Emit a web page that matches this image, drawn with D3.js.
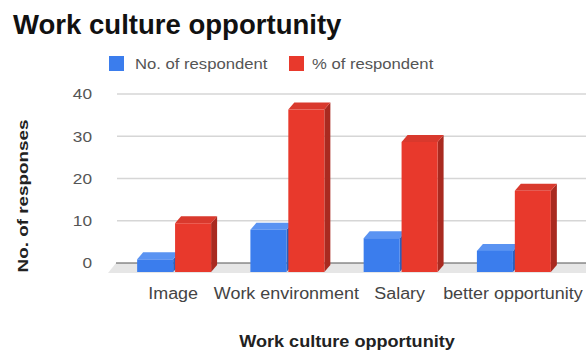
<!DOCTYPE html>
<html>
<head>
<meta charset="utf-8">
<script src="https://cdn.jsdelivr.net/npm/d3@7"></script>
<style>
  html, body { margin: 0; padding: 0; background: #fff; }
  svg { display: block; font-family: "Liberation Sans", Arial, sans-serif; }
</style>
</head>
<body>
<svg id="chart" width="586" height="353"></svg>
<script>
// Survey data
const categories = ["Image", "Work environment", "Salary", "better opportunity"];
const seriesNames = ["No. of respondent", "% of respondent"];
const respondents = [3, 10, 8, 5];
const percentRespondents = [11.54, 38.46, 30.77, 19.23];
const yTicks = [0, 10, 20, 30, 40];

const palette = [
  { front: "#3b7ded", top: "#5a93f2", side: "#2a5fbd" },
  { front: "#e8392c", top: "#d9392d", side: "#a92a20" }
];

const svg = d3.select("#chart");
const W = 586, H = 353;

// Widen text horizontally by factor k, keeping its anchor
function widen(sel, k) {
  sel.each(function () {
    const w = this.getComputedTextLength();
    d3.select(this).attr("textLength", w * k).attr("lengthAdjust", "spacingAndGlyphs");
  });
  return sel;
}

// Oblique depth of the 3D bars and floor
const depthX = 6, depthY = 7, floorDepth = 9;

const y = d3.scaleLinear().domain([0, 40]).range([263, 94]);
const x = d3.scaleBand().domain(categories).range([117.5, 570.5])
  .paddingInner(0.347).paddingOuter(0.1735);
const xs = d3.scaleBand().domain([0, 1]).range([0, x.bandwidth()]).paddingInner(0.05);

const rows = categories.map((c, i) => ({ cat: c, vals: [respondents[i], percentRespondents[i]] }));

// Title
widen(svg.append("text").attr("x", 13).attr("y", 34)
  .attr("font-size", 27).attr("font-weight", "bold").attr("fill", "#111")
  .text("Work culture opportunity"), 1.02);

// Legend
const legend = svg.append("g");
const legendItems = [{ x: 109, tx: 135 }, { x: 289, tx: 312 }];
seriesNames.forEach((name, i) => {
  legend.append("rect").attr("x", legendItems[i].x).attr("y", 56)
    .attr("width", 15).attr("height", 15).attr("fill", palette[i].front);
  widen(legend.append("text").attr("x", legendItems[i].tx).attr("y", 68.5)
    .attr("font-size", 15).attr("fill", "#555").text(name), 1.11);
});

// Gridlines on the back wall
const grid = svg.append("g");
grid.selectAll("line").data(yTicks.filter(d => d !== 0)).join("line")
  .attr("x1", 117).attr("x2", W)
  .attr("y1", d => y(d)).attr("y2", d => y(d))
  .attr("stroke", "#d6d6d6").attr("stroke-width", 1.5);

// Floor
const x0 = 116;
svg.append("path")
  .attr("d", `M${x0},${y(0)} L${W},${y(0)} L${W},${y(0) + floorDepth + 1} L${x0 - 8},${y(0) + floorDepth + 1} Z`)
  .attr("fill", "#e6e6e6");

// Zero line
svg.append("line").attr("x1", x0).attr("x2", W)
  .attr("y1", y(0)).attr("y2", y(0))
  .attr("stroke", "#555").attr("stroke-width", 1.2);

// Y axis tick labels
const yAxis = d3.axisLeft(y).tickValues(yTicks).tickSize(0).tickPadding(0);
const yg = svg.append("g").attr("transform", "translate(92,0)").call(yAxis);
yg.select(".domain").remove();
widen(yg.selectAll("text").attr("font-size", 15).attr("fill", "#555")
  .attr("font-family", "'Liberation Sans', Arial, sans-serif"), 1.15);

// Y axis title
widen(svg.append("text")
  .attr("transform", "translate(28,196) rotate(-90)")
  .attr("text-anchor", "middle").attr("font-size", 14.5).attr("font-weight", "bold")
  .attr("fill", "#222").text("No. of responses"), 1.3);

// 3D bars
const bars = svg.append("g");
rows.forEach(row => {
  row.vals.forEach((v, s) => {
    const bx = x(row.cat) + xs(s);
    const bw = xs.bandwidth();
    const yb = y(0) + floorDepth;
    const yt = y(v) + floorDepth;
    const g = bars.append("g");
    // side face
    g.append("path")
      .attr("d", `M${bx + bw},${yt} L${bx + bw + depthX},${yt - depthY} L${bx + bw + depthX},${yb - depthY} L${bx + bw},${yb} Z`)
      .attr("fill", palette[s].side);
    // top face
    g.append("path")
      .attr("d", `M${bx},${yt} L${bx + depthX},${yt - depthY} L${bx + bw + depthX},${yt - depthY} L${bx + bw},${yt} Z`)
      .attr("fill", palette[s].top);
    // front face
    g.append("rect").attr("x", bx).attr("y", yt)
      .attr("width", bw).attr("height", yb - yt).attr("fill", palette[s].front);
  });
});

// Category labels
const xAxis = d3.axisBottom(x).tickSize(0).tickPadding(0);
const xg = svg.append("g").attr("transform", "translate(-1,288)").call(xAxis);
xg.select(".domain").remove();
widen(xg.selectAll("text").attr("font-size", 16).attr("fill", "#444")
  .attr("font-family", "'Liberation Sans', Arial, sans-serif"), 1.12);

// X axis title
widen(svg.append("text").attr("x", 347).attr("y", 347)
  .attr("text-anchor", "middle").attr("font-size", 16).attr("font-weight", "bold")
  .attr("fill", "#222").text("Work culture opportunity"), 1.13);
</script>
</body>
</html>
